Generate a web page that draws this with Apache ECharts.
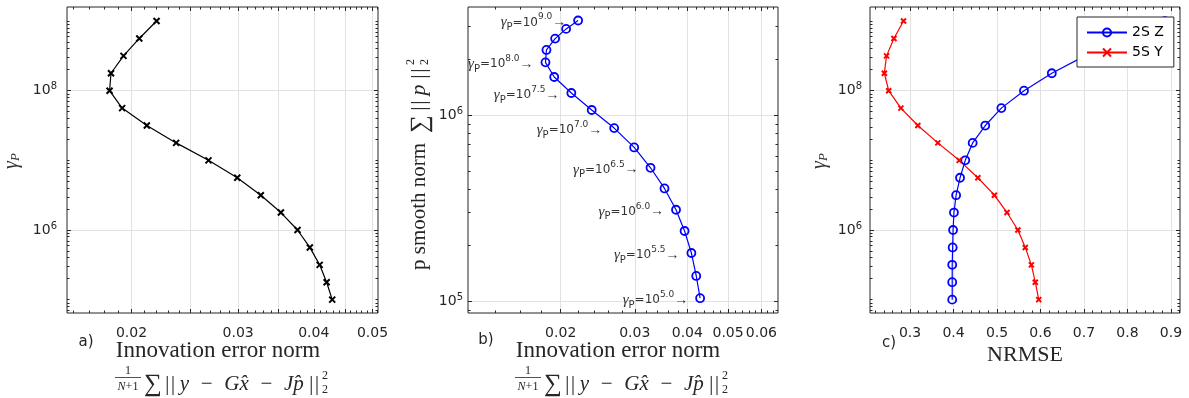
<!DOCTYPE html>
<html>
<head>
<meta charset="utf-8">
<script src="https://cdn.jsdelivr.net/npm/echarts@6.0.0/dist/echarts.min.js"></script>
<style>
html,body{margin:0;padding:0;background:#fff;}
#chart{width:1189px;height:398px;}
</style>
</head>
<body>
<div id="chart"></div>
<script>
// ---------------- data ----------------
// regularisation parameter gamma_P, quarter-decade steps from 1e9 down to 1e5
const gammaP = [1e9, 5.62e8, 3.16e8, 1.78e8, 1e8, 5.62e7, 3.16e7, 1.78e7, 1e7,
                5.62e6, 3.16e6, 1.78e6, 1e6, 5.62e5, 3.16e5, 1.78e5, 1e5];
// innovation error norm (panels a and b, x)
const innovationNorm = [0.0220, 0.0206, 0.0194, 0.0185, 0.0184, 0.0193, 0.0212, 0.0237, 0.0268,
                        0.0299, 0.0327, 0.0353, 0.0376, 0.0394, 0.0409, 0.0420, 0.0429];
// p smooth norm (panel b, y)
const pSmoothNorm = [3.24e6, 2.92e6, 2.59e6, 2.25e6, 1.93e6, 1.61e6, 1.32e6, 1.07e6, 8.55e5,
                     6.73e5, 5.23e5, 4.05e5, 3.11e5, 2.39e5, 1.82e5, 1.37e5, 1.04e5];
// NRMSE (panel c, x)
const nrmse2SZ = [0.886, 0.792, 0.702, 0.626, 0.562, 0.510, 0.473, 0.444, 0.427,
                  0.415, 0.406, 0.401, 0.399, 0.398, 0.397, 0.397, 0.397];
const nrmse5SY = [0.285, 0.263, 0.246, 0.241, 0.251, 0.279, 0.318, 0.364, 0.413,
                  0.456, 0.494, 0.523, 0.548, 0.565, 0.579, 0.588, 0.596];
// annotation exponents in panel b
const gammaLabels = ['9.0', '', '', '', '8.0', '', '7.5', '', '7.0', '', '6.5', '', '6.0', '', '5.5', '', '5.0'];
const seriesNames = ['2S Z', '5S Y'];
// ticks / tick labels
const xTicksA = [0.02, 0.025, 0.03, 0.035, 0.04, 0.045, 0.05];
const xLabelsA = [0.02, 0.03, 0.04, 0.05];
const xTicksB = [0.02, 0.03, 0.04, 0.05, 0.06];
const xLabelsB = [0.02, 0.03, 0.04, 0.05, 0.06];
const xLabelsC = [0.3, 0.4, 0.5, 0.6, 0.7, 0.8, 0.9];
const yLabelsGamma = [1e6, 1e8];
const yLabelsP = [1e5, 1e6];

// ---------------- styling helpers ----------------
const AX = '#262626';
const GRIDC = '#e2e2e2';
const TXT = '#262626';
const SANS = '"DejaVu Sans", "Liberation Sans", Arial, sans-serif';
const SERIF = '"Liberation Serif", "DejaVu Serif", "Times New Roman", serif';

function logTicks(min, max) {
  const out = [];
  for (let n = -4; n <= 10; n++) {
    for (let k = 1; k <= 9; k++) {
      const v = +(k * Math.pow(10, n)).toPrecision(6);
      if (v >= min && v <= max) out.push(v);
    }
  }
  return out;
}
function stepTicks(min, max, step) {
  const out = [];
  for (let i = Math.ceil(min / step - 1e-9); i * step <= max + 1e-12; i++) out.push(+(i * step).toFixed(6));
  return out;
}
function fmtX(v) { return String(+v.toFixed(3)); }
function fmtY(v) { return '{b|10}{s|' + Math.round(Math.log10(v)) + '}'; }

const xAxes = [], yAxes = [];
function base(o) {
  return Object.assign({
    axisLine: { show: false, onZero: false },
    splitLine: { show: false },
    axisLabel: { show: false },
    axisTick: { show: false },
    minorTick: { show: false },
    minorSplitLine: { show: false }
  }, o);
}
function tick(values, len) {
  return { show: true, inside: true, length: len, customValues: values, lineStyle: { color: AX, width: 1 } };
}

const panels = [
  { xType: 'log', xMin: 0.01565, xMax: 0.05106, xTicks: xTicksA, xLabels: xLabelsA, xMinorStep: 0.001,
    yMin: 6.43e4, yMax: 1.59e9, yLabels: yLabelsGamma, yMargin: 10 },
  { xType: 'log', xMin: 0.01204, xMax: 0.06571, xTicks: xTicksB, xLabels: xLabelsB, xMinorStep: 0.002,
    yMin: 8.66e4, yMax: 3.83e6, yLabels: yLabelsP, yMargin: 5 },
  { xType: 'value', xMin: 0.208, xMax: 0.9207, xTicks: xLabelsC, xLabels: xLabelsC, xMinorStep: 0.02,
    yMin: 6.43e4, yMax: 1.59e9, yLabels: yLabelsGamma, yMargin: 8 }
];
const idx = [];
panels.forEach((p, g) => {
  const xr = { gridIndex: g, type: p.xType, min: p.xMin, max: p.xMax };
  const yr = { gridIndex: g, type: 'log', min: p.yMin, max: p.yMax };
  const allY = logTicks(p.yMin, p.yMax);
  const minorX = stepTicks(p.xMin, p.xMax, p.xMinorStep);
  // main bottom x axis: labels, ticks, grid
  xAxes.push(base(Object.assign({}, xr, {
    position: 'bottom',
    axisTick: tick(p.xTicks, 4),
    axisLabel: { show: true, customValues: p.xLabels, margin: 13, formatter: fmtX,
                 fontFamily: SANS, fontSize: 14, color: TXT },
    splitLine: { show: true, lineStyle: { color: GRIDC, width: 1 } }
  })));
  const xi = xAxes.length - 1;
  // minor bottom ticks, mirrored top ticks
  xAxes.push(base(Object.assign({}, xr, { position: 'bottom', axisTick: tick(minorX, 2.5) })));
  xAxes.push(base(Object.assign({}, xr, { position: 'top', axisTick: tick(p.xTicks, 4) })));
  xAxes.push(base(Object.assign({}, xr, { position: 'top', axisTick: tick(minorX, 2.5) })));
  // main left y axis: labels + grid at labelled decades
  yAxes.push(base(Object.assign({}, yr, {
    position: 'left',
    axisTick: tick(p.yLabels, 4),
    axisLabel: { show: true, customValues: p.yLabels, margin: p.yMargin, formatter: fmtY,
                 rich: { b: { fontFamily: SANS, fontSize: 14, color: TXT, lineHeight: 18 },
                         s: { fontFamily: SANS, fontSize: 10, color: TXT, lineHeight: 10, verticalAlign: 'top' } } },
    splitLine: { show: true, lineStyle: { color: GRIDC, width: 1 } }
  })));
  const yi = yAxes.length - 1;
  // minor ticks left and all ticks right
  yAxes.push(base(Object.assign({}, yr, { position: 'left', axisTick: tick(allY, 2.5) })));
  yAxes.push(base(Object.assign({}, yr, { position: 'right', axisTick: tick(p.yLabels, 4) })));
  yAxes.push(base(Object.assign({}, yr, { position: 'right', axisTick: tick(allY, 2.5) })));
  idx.push({ x: xi, y: yi });
});

const xMark = 'path://M0,0L10,10M0,10L10,0';

const series = [
  { type: 'line', name: 'a', xAxisIndex: idx[0].x, yAxisIndex: idx[0].y,
    data: innovationNorm.map((v, i) => [v, gammaP[i]]),
    symbol: xMark, symbolSize: 6,
    itemStyle: { color: '#000', borderColor: '#000', borderWidth: 2 },
    lineStyle: { color: '#000', width: 1.2 } },
  { type: 'line', name: 'b', xAxisIndex: idx[1].x, yAxisIndex: idx[1].y,
    data: innovationNorm.map((v, i) => [v, pSmoothNorm[i]]),
    symbol: 'circle', symbolSize: 8,
    itemStyle: { color: 'rgba(255,255,255,0)', borderColor: '#0000ff', borderWidth: 1.8 },
    lineStyle: { color: '#0000ff', width: 1.2 },
    label: {
      show: true, position: 'left', distance: 7, offset: [0, 2],
      formatter: p => gammaLabels[p.dataIndex]
        ? '{g|γ}{s|P}{t|=10}{e|' + gammaLabels[p.dataIndex] + '}{a|→}' : '',
      rich: {
        g: { fontFamily: SERIF, fontStyle: 'italic', fontSize: 15, color: '#333', lineHeight: 20 },
        s: { fontFamily: SANS, fontSize: 10, color: '#333', lineHeight: 13, verticalAlign: 'bottom' },
        t: { fontFamily: SANS, fontSize: 12, color: '#333', lineHeight: 20 },
        e: { fontFamily: SANS, fontSize: 9, color: '#333', lineHeight: 10, verticalAlign: 'top' },
        a: { fontFamily: SERIF, fontSize: 14, color: '#333', lineHeight: 20 }
      }
    } },
  { type: 'line', name: seriesNames[0], xAxisIndex: idx[2].x, yAxisIndex: idx[2].y,
    data: nrmse2SZ.map((v, i) => [v, gammaP[i]]),
    symbol: 'circle', symbolSize: 8,
    itemStyle: { color: 'rgba(255,255,255,0)', borderColor: '#0000ff', borderWidth: 1.8 },
    lineStyle: { color: '#0000ff', width: 1.2 } },
  { type: 'line', name: seriesNames[1], xAxisIndex: idx[2].x, yAxisIndex: idx[2].y,
    data: nrmse5SY.map((v, i) => [v, gammaP[i]]),
    symbol: xMark, symbolSize: 5,
    itemStyle: { color: '#ff0000', borderColor: '#ff0000', borderWidth: 2 },
    lineStyle: { color: '#ff0000', width: 1.2 } }
];

// ---------------- text graphics ----------------
const TS = '\u2009';  // thin space
function txt(x, y, text, extra) {
  return { type: 'text', x: x, y: y, silent: true,
    style: Object.assign({ text: text, fill: TXT, align: 'center', verticalAlign: 'middle',
      fontFamily: SANS, fontSize: 15 }, extra || {}) };
}
function xTitle(dx) {
  return [
    txt(218 + dx, 351, 'Innovation error norm', { fontFamily: SERIF, fontSize: 23 }),
    txt(128 + dx, 371, '1', { fontFamily: SERIF, fontSize: 12 }),
    { type: 'line', silent: true, shape: { x1: 115 + dx, y1: 377.5, x2: 141 + dx, y2: 377.5 },
      style: { stroke: TXT, lineWidth: 0.8 } },
    txt(128 + dx, 387, '{i|N}{r|+1}', { rich: {
      i: { fontFamily: SERIF, fontStyle: 'italic', fontSize: 12, fill: TXT },
      r: { fontFamily: SERIF, fontSize: 12, fill: TXT } } }),
    txt(153 + dx, 384, '∑', { fontFamily: SERIF, fontSize: 25 }),
    txt(164 + dx, 384, '||' + TS + 'y\u2002−\u2002Gx̂\u2002−\u2002Jp̂' + TS + '||',
        { fontFamily: SERIF, fontStyle: 'italic', fontSize: 21, align: 'left' }),
    txt(322 + dx, 376, '2', { fontFamily: SERIF, fontSize: 12, align: 'left' }),
    txt(322 + dx, 390, '2', { fontFamily: SERIF, fontSize: 12, align: 'left' })
  ];
}
function gammaTitle(x, y) {
  const t = txt(x, y, '{g|γ}{p|P}', { rich: {
    g: { fontFamily: SERIF, fontStyle: 'italic', fontSize: 20, fill: '#333', lineHeight: 20 },
    p: { fontFamily: SERIF, fontStyle: 'italic', fontSize: 13, fill: '#333', lineHeight: 12, verticalAlign: 'bottom' } } });
  t.rotation = Math.PI / 2;
  return t;
}
const graphics = [].concat(
  xTitle(0), xTitle(400),
  [
    txt(86, 342, 'a)'), txt(486, 340, 'b)'), txt(889, 343, 'c)'),
    txt(1025, 355, 'NRMSE', { fontFamily: SERIF, fontSize: 22 }),
    gammaTitle(12, 161), gammaTitle(820, 161),
    { type: 'group', x: 419, y: 157, rotation: Math.PI / 2, silent: true, children: [
      { type: 'text', x: -113, y: 0, style: { text: 'p smooth norm', fill: TXT, fontFamily: SERIF, fontSize: 21, align: 'left', verticalAlign: 'middle' } },
      { type: 'text', x: 33, y: 1, style: { text: '∑', fill: TXT, fontFamily: SERIF, fontSize: 25, align: 'center', verticalAlign: 'middle' } },
      { type: 'text', x: 45, y: 0, style: { text: '||' + TS + 'p' + TS + '||', fill: TXT, fontFamily: SERIF, fontStyle: 'italic', fontSize: 22, align: 'left', verticalAlign: 'middle' } },
      { type: 'text', x: 92, y: -8, style: { text: '2', fill: TXT, fontFamily: SERIF, fontSize: 12, align: 'left', verticalAlign: 'middle' } },
      { type: 'text', x: 92, y: 6, style: { text: '2', fill: TXT, fontFamily: SERIF, fontSize: 12, align: 'left', verticalAlign: 'middle' } }
    ] }
  ]
);

const gridBase = { show: true, borderColor: AX, borderWidth: 1, backgroundColor: '#fff',
                   containLabel: false, outerBoundsMode: 'none', top: 7, height: 306, width: 310 };
const option = {
  animation: false,
  backgroundColor: '#fff',
  grid: [
    Object.assign({}, gridBase, { left: 67, width: 311 }),
    Object.assign({}, gridBase, { left: 468 }),
    Object.assign({}, gridBase, { left: 870 })
  ],
  xAxis: xAxes,
  yAxis: yAxes,
  legend: {
    data: seriesNames, orient: 'vertical', left: 1077, top: 17,
    padding: [8, 10, 7, 9], itemWidth: 40, itemHeight: 10, itemGap: 5,
    backgroundColor: '#fff', borderColor: AX, borderWidth: 1, borderRadius: 0,
    textStyle: { fontFamily: SANS, fontSize: 14, color: '#000', lineHeight: 15 },
    selectedMode: false
  },
  series: series,
  graphic: graphics
};
const chart = echarts.init(document.getElementById('chart'), null, { renderer: 'canvas' });
chart.setOption(option);
</script>
</body>
</html>
